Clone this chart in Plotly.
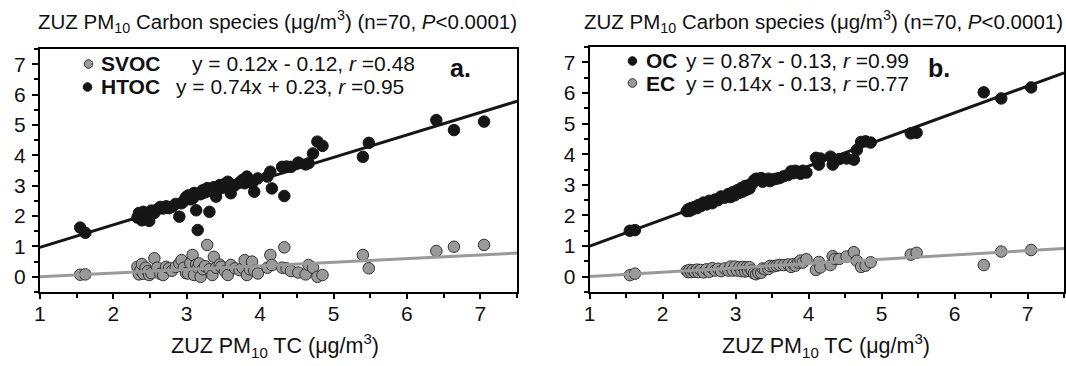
import plotly.graph_objects as go

# ---------------- data ----------------
TC = [1.55, 1.62, 2.33, 2.35, 2.37, 2.39, 2.41, 2.44, 2.47, 2.49,
      2.52, 2.56, 2.60, 2.64, 2.68, 2.72, 2.76, 2.80, 2.85, 2.90,
      2.93, 2.96, 2.99, 3.02, 3.05, 3.08, 3.10, 3.13, 3.15, 3.17,
      3.19, 3.22, 3.25, 3.28, 3.31, 3.35, 3.37, 3.40, 3.45, 3.47,
      3.52, 3.56, 3.60, 3.66, 3.72, 3.76, 3.79, 3.82, 3.86, 3.89,
      3.92, 3.97, 4.10, 4.14, 4.16, 4.30, 4.33, 4.36, 4.42, 4.52,
      4.62, 4.66, 4.72, 4.78, 4.85, 5.40, 5.48, 6.40, 6.64, 7.05]

HTOC = [1.62, 1.45, 1.95, 2.10, 2.02, 1.86, 2.14, 2.00, 2.08, 1.84,
        2.18, 2.10, 2.22, 2.30, 2.25, 2.32, 2.26, 2.30, 2.40, 1.98,
        2.42, 2.50, 2.62, 2.68, 2.55, 2.58, 2.76, 2.19, 1.54, 2.75,
        2.72, 2.85, 2.78, 2.92, 2.14, 2.86, 2.95, 2.64, 3.02, 2.92,
        3.06, 3.13, 2.75, 3.02, 3.10, 3.19, 3.08, 3.30, 3.12, 3.08,
        2.80, 3.24, 3.30, 3.46, 2.91, 3.62, 2.66, 3.63, 3.62, 3.76,
        3.70, 3.74, 4.06, 4.45, 4.31, 3.95, 4.41, 5.16, 4.83, 5.11]

SVOC = [0.07, 0.08, 0.33, 0.08, 0.22, 0.42, 0.10, 0.30, 0.18, 0.06,
        0.12, 0.61, 0.30, 0.10, 0.06, 0.33, 0.28, 0.20, 0.32, 0.44,
        0.55, 0.30, 0.12, 0.11, 0.45, 0.72, 0.06, 0.40, 0.30, 0.44,
        0.00, 0.25, 0.35, 1.05, 0.25, 0.06, 0.66, 0.30, 0.40, 0.33,
        0.18, 0.06, 0.39, 0.28, 0.22, 0.30, 0.55, 0.06, 0.25, 0.50,
        0.20, 0.11, 0.30, 0.72, 0.39, 0.30, 0.97, 0.28, 0.19, 0.14,
        0.08, 0.39, 0.30, 0.00, 0.06, 0.72, 0.28, 0.85, 0.99, 1.05]

OC = [1.50, 1.52, 2.14, 2.20, 2.15, 2.24, 2.20, 2.28, 2.24, 2.34,
      2.30, 2.42, 2.36, 2.48, 2.40, 2.52, 2.50, 2.62, 2.58, 2.70,
      2.60, 2.76, 2.66, 2.82, 2.74, 2.90, 2.78, 2.96, 2.84, 2.98,
      2.88, 3.02, 3.14, 3.20, 3.18, 3.22, 3.10, 3.16, 3.20, 3.12,
      3.18, 3.20, 3.22, 3.28, 3.32, 3.44, 3.38, 3.46, 3.40, 3.36,
      3.46, 3.40, 3.88, 3.66, 3.86, 3.92, 3.66, 3.78, 3.84, 3.86,
      3.82, 4.14, 4.40, 4.42, 4.38, 4.68, 4.70, 6.02, 5.82, 6.18]

EC = [0.05, 0.10, 0.19, 0.15, 0.22, 0.15, 0.21, 0.16, 0.23, 0.15,
      0.22, 0.14, 0.24, 0.16, 0.28, 0.20, 0.26, 0.18, 0.27, 0.20,
      0.33, 0.20, 0.33, 0.20, 0.31, 0.18, 0.32, 0.17, 0.31, 0.19,
      0.31, 0.20, 0.11, 0.08, 0.13, 0.13, 0.27, 0.24, 0.25, 0.35,
      0.34, 0.36, 0.38, 0.38, 0.40, 0.32, 0.41, 0.36, 0.46, 0.53,
      0.46, 0.57, 0.22, 0.48, 0.30, 0.38, 0.67, 0.58, 0.58, 0.66,
      0.80, 0.52, 0.32, 0.36, 0.47, 0.72, 0.78, 0.38, 0.82, 0.87]

# regression lines as drawn (slope, intercept)
FIT_SVOC = [0.12, -0.12]
FIT_HTOC = [0.74, 0.23]
FIT_OC = [0.87, 0.13]
FIT_EC = [0.14, -0.13]

X_RANGE = [1, 7.5]
Y_RANGE = [-0.5, 7.5]
X_TICKS = [1, 2, 3, 4, 5, 6, 7]
Y_TICKS = [0, 1, 2, 3, 4, 5, 6, 7]

LEGEND_A = [("SVOC", "y = 0.12x - 0.12, <i>r</i> =0.48"),
            ("HTOC", "y = 0.74x + 0.23, <i>r</i> =0.95")]
LEGEND_B = [("OC", "y = 0.87x - 0.13, <i>r</i> =0.99"),
            ("EC", "y = 0.14x - 0.13, <i>r</i> =0.77")]
TITLE = "ZUZ PM<sub>10</sub> Carbon species (μg/m<sup>3</sup>) (n=70, <i>P</i>&lt;0.0001)"
XTITLE = "ZUZ PM<sub>10</sub> TC (μg/m<sup>3</sup>)"

# ---------------- styling ----------------
W, H = 1066, 366
FONT = "Liberation Sans, Arial, sans-serif"
BLACK = "#161616"
GRAY = "#9a9a9a"
EDGE = "#333333"


def px(x):
    return x / W


def py(y):
    return 1 - y / H


fig = go.Figure()


def line_pts(fit):
    xs = [X_RANGE[0], X_RANGE[1]]
    return xs, [fit[0] * x + fit[1] for x in xs]


def add_panel(xa, ya, series):
    for vals, fit, color, is_gray in series:
        fig.add_trace(go.Scatter(
            x=TC, y=vals, mode="markers", xaxis=xa, yaxis=ya,
            marker=dict(size=11.5 if is_gray else 11.5, color=color,
                        line=dict(color=EDGE if is_gray else BLACK, width=1)),
            showlegend=False, hoverinfo="skip"))
        lx, ly = line_pts(fit)
        fig.add_trace(go.Scatter(
            x=lx, y=ly, mode="lines", xaxis=xa, yaxis=ya,
            line=dict(color=BLACK if not is_gray else GRAY, width=3),
            showlegend=False, hoverinfo="skip"))


add_panel("x", "y", [(SVOC, FIT_SVOC, GRAY, True), (HTOC, FIT_HTOC, BLACK, False)])
add_panel("x2", "y2", [(EC, FIT_EC, GRAY, True), (OC, FIT_OC, BLACK, False)])

axis_common = dict(showline=True, linewidth=2, linecolor="black", mirror=True,
                   ticks="outside", tickcolor="black", tickwidth=1.5,
                   showgrid=False, zeroline=False,
                   tickfont=dict(family=FONT, size=21, color="#111"))
minor = dict(dtick=0.5, ticks="outside", ticklen=4, tickcolor="black", tickwidth=1.5)

fig.update_layout(
    width=W, height=H, autosize=False,
    margin=dict(l=0, r=0, t=0, b=0),
    paper_bgcolor="white", plot_bgcolor="white",
    xaxis=dict(domain=[px(34), px(514)], range=X_RANGE, tickvals=X_TICKS,
               ticklen=5, minor=minor, ticklabelstandoff=-3,
               anchor="y", **axis_common),
    yaxis=dict(domain=[py(292), py(49)], range=Y_RANGE, tickvals=Y_TICKS,
               ticklen=6, minor=minor, ticklabelstandoff=2,
               anchor="x", **axis_common),
    xaxis2=dict(domain=[px(587), px(1064)], range=X_RANGE, tickvals=X_TICKS,
                ticklen=5, minor=minor, ticklabelstandoff=-3,
                anchor="y2", **axis_common),
    yaxis2=dict(domain=[py(292), py(47)], range=Y_RANGE, tickvals=Y_TICKS,
                ticklen=6, minor=minor, ticklabelstandoff=2,
                anchor="x2", **axis_common),
)

ann = []
shapes = []


def text(x, y, s, size=21, xanchor="left", yanchor="middle"):
    ann.append(dict(x=px(x), y=py(y), xref="paper", yref="paper", text=s,
                    showarrow=False, xanchor=xanchor, yanchor=yanchor,
                    borderpad=0,
                    font=dict(family=FONT, size=size, color="#111")))


def dot(cx, cy, gray):
    r = 4.3
    shapes.append(dict(type="circle", xref="paper", yref="paper",
                       x0=px(cx - r), x1=px(cx + r), y0=py(cy + r), y1=py(cy - r),
                       fillcolor=GRAY if gray else BLACK,
                       line=dict(color=EDGE if gray else BLACK, width=1)))


# titles
text(273, 22, TITLE, size=20.5, xanchor="center")
text(822, 22, TITLE, size=20.5, xanchor="center")
text(271, 345, XTITLE, size=21.5, xanchor="center")
text(825, 345, XTITLE, size=21.5, xanchor="center")

# legend panel a
dot(83, 64, True)
text(95, 64, "<b>%s</b>" % LEGEND_A[0][0])
text(186, 64, LEGEND_A[0][1])
dot(82, 87, False)
text(95, 87, "<b>%s</b>" % LEGEND_A[1][0])
text(170, 87, LEGEND_A[1][1])
text(446, 68, "<b>a.</b>", size=25)

# legend panel b
dot(630, 61, False)
text(643, 61, "<b>%s</b>" % LEGEND_B[0][0])
text(683, 61, LEGEND_B[0][1])
dot(630, 83, True)
text(643, 83, "<b>%s</b>" % LEGEND_B[1][0])
text(683, 83, LEGEND_B[1][1])
text(926, 68, "<b>b.</b>", size=25)

fig.update_layout(annotations=ann, shapes=shapes)
fig.write_html("out.html")
